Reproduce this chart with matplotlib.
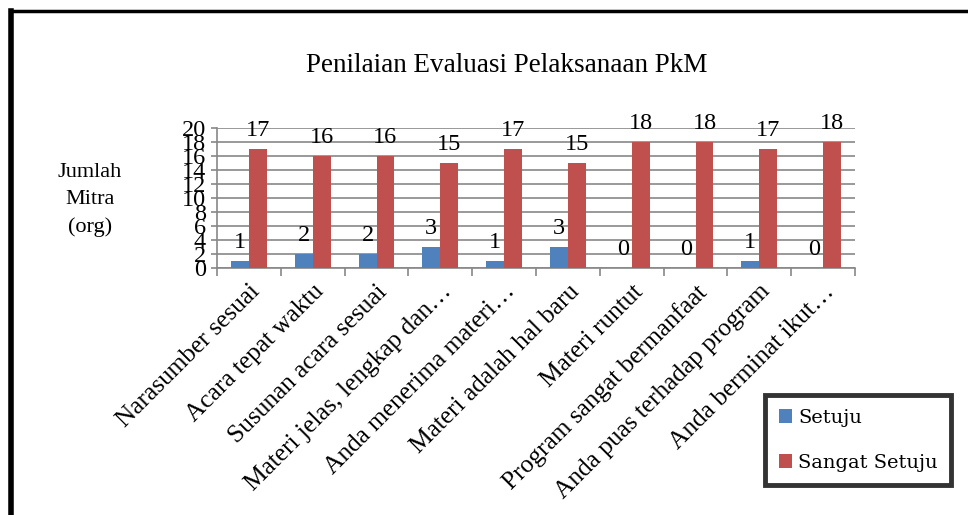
import matplotlib
matplotlib.use("Agg")
import matplotlib.pyplot as plt
import numpy as np
from matplotlib.lines import Line2D

categories = ["Narasumber sesuai", "Acara tepat waktu", "Susunan acara sesuai",
              "Materi jelas, lengkap dan…", "Anda menerima materi…",
              "Materi adalah hal baru", "Materi runtut", "Program sangat bermanfaat",
              "Anda puas terhadap program", "Anda berminat ikut…"]
setuju = [1, 2, 2, 3, 1, 3, 0, 0, 1, 0]
sangat_setuju = [17, 16, 16, 15, 17, 15, 18, 18, 17, 18]
series_names = ["Setuju", "Sangat Setuju"]
yticks = list(range(0, 21, 2))
title = "Penilaian Evaluasi Pelaksanaan PkM"
ylabel = "Jumlah\nMitra\n(org)"

serif = ["Liberation Serif", "DejaVu Serif"]
plt.rcParams['font.family'] = serif

W, H = 968, 515
fig = plt.figure(figsize=(W / 100, H / 100), dpi=100)
ax = fig.add_axes([217 / W, 1 - 268 / H, (855 - 217) / W, (268 - 128) / H])

x = np.arange(len(categories))
bw = 0.28
blue, red = "#4F81BD", "#C0504D"
b1 = ax.bar(x - bw / 2, setuju, bw, color=blue, label=series_names[0], zorder=3)
b2 = ax.bar(x + bw / 2, sangat_setuju, bw, color=red, label=series_names[1], zorder=3)

for bars in (b1, b2):
    for r in bars:
        ax.annotate(f"{int(r.get_height())}", (r.get_x() + r.get_width() / 2, r.get_height()),
                    xytext=(0, 5.5), textcoords="offset points", ha="center", va="bottom",
                    fontsize=17.5, family=serif)

gc = "#878787"
ax.set_ylim(0, 20)
ax.set_xlim(-0.5, len(categories) - 0.5)
ax.set_yticks(yticks)
ax.set_yticklabels([str(t) for t in yticks], fontsize=17.5)
ax.yaxis.grid(True, color=gc, lw=1.2, zorder=0)
ax.set_axisbelow(True)
ax.set_xticks(x)
ax.set_xticklabels(categories, rotation=45, ha="right", rotation_mode="anchor", fontsize=18.3)
ax.set_xticks(np.arange(-0.5, len(categories)), minor=True)
ax.tick_params(axis="x", which="major", length=0, pad=9)
ax.tick_params(axis="x", which="minor", length=6, color=gc, width=1.2, direction="out")
ax.tick_params(axis="y", length=4, color=gc, width=1.2, pad=4)
for s in ("top", "right"):
    ax.spines[s].set_visible(False)
for s in ("left", "bottom"):
    ax.spines[s].set_color(gc)
    ax.spines[s].set_linewidth(1.2)

fig.text(507 / W, 1 - 66 / H, title, ha="center", va="center", fontsize=19.5)
fig.text(90 / W, 1 - 200 / H, ylabel, ha="center", va="center", fontsize=16, linespacing=1.55)

leg = fig.legend(handles=[b1, b2], labels=series_names, loc="upper left",
                 bbox_to_anchor=(765 / W, 1 - 395 / H), borderaxespad=0, frameon=True,
                 fancybox=False, labelspacing=1.4, handlelength=0.7, handleheight=0.7,
                 handletextpad=0.3, borderpad=0.7, prop={"family": ["DejaVu Serif"], "size": 14})
leg.get_frame().set_edgecolor("black")
leg.get_frame().set_linewidth(3.5)

# outer border
fig.add_artist(Line2D([11 / W, 11 / W], [0, 1 - 10.5 / H], color="black", lw=4,
                      transform=fig.transFigure, solid_capstyle="projecting"))
fig.add_artist(Line2D([11 / W, 1.0], [1 - 10.5 / H, 1 - 10.5 / H], color="black", lw=2.5,
                      transform=fig.transFigure))

fig.savefig("out.png", dpi=100, facecolor="white")
